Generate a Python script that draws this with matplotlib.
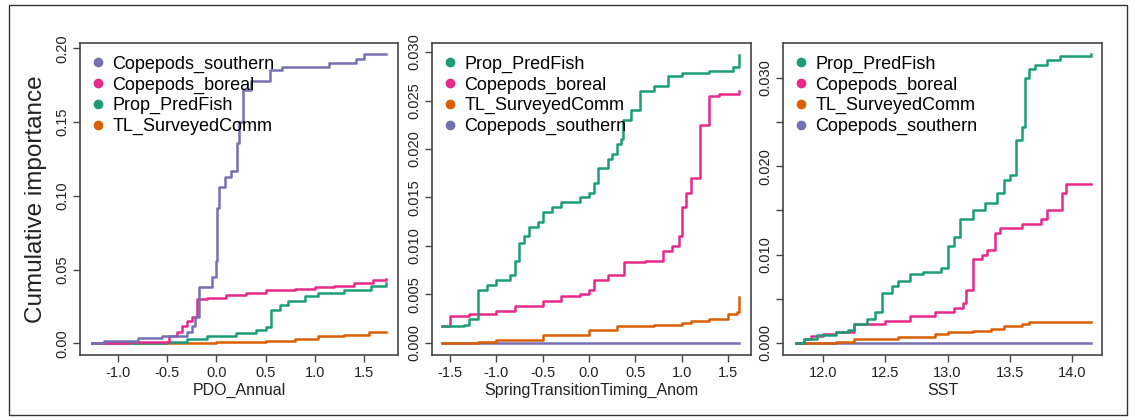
import matplotlib
matplotlib.use("Agg")
import matplotlib.pyplot as plt
from matplotlib.lines import Line2D
from matplotlib.patches import Rectangle

plt.rcParams["font.family"] = ["Liberation Sans", "DejaVu Sans"]

# ---------------------------------------------------------------------------
# Data (step breakpoints)
# ---------------------------------------------------------------------------
COLORS = {
    "Prop_PredFish": "#1B9E77",
    "TL_SurveyedComm": "#D95F02",
    "Copepods_southern": "#7570B3",
    "Copepods_boreal": "#E7298A",
}

# Panel 1: PDO_Annual
pdo_south_x = [-1.27, -1.15, -0.8, -0.55, -0.3, -0.25, -0.22, -0.18, -0.05, 0.0, 0.01, 0.03, 0.09,
               0.15, 0.21, 0.23, 0.27, 0.35, 0.55, 0.67, 1.15, 1.42, 1.5, 1.73]
pdo_south_y = [0.0, 0.002, 0.004, 0.005, 0.008, 0.012, 0.018, 0.038, 0.045, 0.056, 0.092, 0.106, 0.113,
               0.117, 0.136, 0.150, 0.172, 0.178, 0.185, 0.187, 0.190, 0.193, 0.196, 0.196]
pdo_boreal_x = [-1.27, -0.9, -0.48, -0.4, -0.35, -0.3, -0.25, -0.2, -0.1, 0.1, 0.3, 0.5, 0.8, 1.0,
                1.2, 1.4, 1.6, 1.73]
pdo_boreal_y = [0.0, 0.001, 0.005, 0.008, 0.012, 0.015, 0.018, 0.030, 0.031, 0.033, 0.034, 0.036,
                0.037, 0.038, 0.039, 0.041, 0.043, 0.044]
pdo_fish_x = [-1.27, -0.5, -0.3, -0.1, 0.2, 0.4, 0.5, 0.56, 0.65, 0.73, 0.9, 1.03, 1.3, 1.57, 1.73]
pdo_fish_y = [0.0, 0.001, 0.003, 0.005, 0.007, 0.009, 0.011, 0.023, 0.026, 0.029, 0.032, 0.034, 0.036,
              0.039, 0.041]
pdo_tl_x = [-1.27, -0.5, 0.0, 0.5, 0.8, 1.03, 1.3, 1.55, 1.73]
pdo_tl_y = [0.0, 0.0005, 0.001, 0.002, 0.003, 0.0052, 0.0058, 0.0075, 0.0078]

# Panel 2: SpringTransitionTiming_Anom
spr_fish_x = [-1.59, -1.35, -1.3, -1.2, -1.1, -1.0, -0.85, -0.8, -0.75, -0.7, -0.65, -0.55, -0.5,
              -0.4, -0.3, -0.1, 0.0, 0.05, 0.1, 0.2, 0.25, 0.3, 0.35, 0.37, 0.45, 0.55, 0.7, 0.85,
              1.0, 1.3, 1.55, 1.62]
spr_fish_y = [0.0017, 0.0019, 0.0025, 0.0055, 0.006, 0.0065, 0.007, 0.0085, 0.0103, 0.011, 0.012,
              0.0125, 0.0135, 0.014, 0.0145, 0.015, 0.0155, 0.0165, 0.018, 0.019, 0.0195, 0.0205,
              0.021, 0.023, 0.024, 0.026, 0.0265, 0.0275, 0.0278, 0.028, 0.0285, 0.0297]
spr_boreal_x = [-1.59, -1.5, -1.3, -1.0, -0.8, -0.5, -0.3, -0.1, 0.0, 0.05, 0.2, 0.38, 0.6, 0.8,
                0.9, 0.97, 1.0, 1.05, 1.1, 1.2, 1.3, 1.4, 1.62]
spr_boreal_y = [0.0018, 0.0028, 0.003, 0.0033, 0.0038, 0.0043, 0.0048, 0.005, 0.0055, 0.0065,
                0.007, 0.0083, 0.0085, 0.0095, 0.010, 0.011, 0.014, 0.0155, 0.017, 0.0225,
                0.0255, 0.0257, 0.026]
spr_tl_x = [-1.59, -1.2, -1.0, -0.5, 0.0, 0.3, 0.7, 1.0, 1.1, 1.3, 1.5, 1.6, 1.62]
spr_tl_y = [0.0, 0.0001, 0.0003, 0.0008, 0.0013, 0.0017, 0.0019, 0.0021, 0.0023, 0.0025, 0.003,
            0.0032, 0.0047]
spr_south_x = [-1.59, 1.62]
spr_south_y = [0.0, 0.0]

# Panel 3: SST
sst_fish_x = [11.78, 11.85, 11.95, 12.1, 12.2, 12.25, 12.35, 12.42, 12.47, 12.55, 12.6, 12.7, 12.8,
              12.95, 13.0, 13.05, 13.1, 13.2, 13.3, 13.4, 13.45, 13.5, 13.55, 13.6, 13.62, 13.65,
              13.7, 13.8, 13.9, 14.15]
sst_fish_y = [0.0, 0.0004, 0.0009, 0.0012, 0.0015, 0.0022, 0.0027, 0.0035, 0.0057, 0.0065, 0.007,
              0.0078, 0.008, 0.0085, 0.011, 0.012, 0.014, 0.015, 0.0158, 0.017, 0.0185, 0.019,
              0.023, 0.0245, 0.030, 0.031, 0.0315, 0.032, 0.0325, 0.0327]
sst_boreal_x = [11.78, 11.85, 11.9, 12.0, 12.1, 12.25, 12.5, 12.7, 12.9, 13.05, 13.12, 13.15, 13.2,
                13.28, 13.32, 13.38, 13.42, 13.6, 13.75, 13.8, 13.92, 13.95, 14.15]
sst_boreal_y = [0.0, 0.0004, 0.0008, 0.001, 0.0012, 0.0021, 0.0025, 0.003, 0.0035, 0.004, 0.0045,
                0.006, 0.0095, 0.010, 0.0105, 0.0125, 0.013, 0.0135, 0.014, 0.015, 0.017, 0.018,
                0.018]
sst_tl_x = [11.78, 12.1, 12.25, 12.6, 12.9, 13.0, 13.2, 13.35, 13.45, 13.6, 13.65, 14.15]
sst_tl_y = [0.0, 0.0001, 0.0005, 0.0007, 0.001, 0.0012, 0.0014, 0.0016, 0.0019, 0.0022, 0.0024,
            0.0024]
sst_south_x = [11.78, 14.15]
sst_south_y = [0.0, 0.0]

PANELS = [
    {
        "rect": (80, 43, 318, 312),
        "xlabel": "PDO_Annual",
        "xlim": (-1.39, 1.85), "ylim": (-0.0078, 0.2036),
        "xticks": [-1.0, -0.5, 0.0, 0.5, 1.0, 1.5],
        "yticks": [0.0, 0.05, 0.10, 0.15, 0.20], "ylabels": ["0.00", "0.05", "0.10", "0.15", "0.20"],
        "series": [
            ("Copepods_southern", pdo_south_x, pdo_south_y),
            ("Copepods_boreal", pdo_boreal_x, pdo_boreal_y),
            ("Prop_PredFish", pdo_fish_x, pdo_fish_y),
            ("TL_SurveyedComm", pdo_tl_x, pdo_tl_y),
        ],
    },
    {
        "rect": (432, 43, 319, 312),
        "xlabel": "SpringTransitionTiming_Anom",
        "xlim": (-1.694, 1.748), "ylim": (-0.00124, 0.03093),
        "xticks": [-1.5, -1.0, -0.5, 0.0, 0.5, 1.0, 1.5],
        "yticks": [0.0, 0.005, 0.010, 0.015, 0.020, 0.025, 0.030],
        "ylabels": ["0.000", "0.005", "0.010", "0.015", "0.020", "0.025", "0.030"],
        "series": [
            ("Prop_PredFish", spr_fish_x, spr_fish_y),
            ("Copepods_boreal", spr_boreal_x, spr_boreal_y),
            ("TL_SurveyedComm", spr_tl_x, spr_tl_y),
            ("Copepods_southern", spr_south_x, spr_south_y),
        ],
    },
    {
        "rect": (783, 43, 319, 312),
        "xlabel": "SST",
        "xlim": (11.678, 14.24), "ylim": (-0.00136, 0.03396),
        "xticks": [12.0, 12.5, 13.0, 13.5, 14.0],
        "yticks": [0.0, 0.005, 0.010, 0.015, 0.020, 0.025, 0.030],
        "ylabels": ["0.000", "", "0.010", "", "0.020", "", "0.030"],
        "series": [
            ("Prop_PredFish", sst_fish_x, sst_fish_y),
            ("Copepods_boreal", sst_boreal_x, sst_boreal_y),
            ("TL_SurveyedComm", sst_tl_x, sst_tl_y),
            ("Copepods_southern", sst_south_x, sst_south_y),
        ],
    },
]

W, H = 1135, 420
fig = plt.figure(figsize=(W / 100, H / 100), dpi=100, facecolor="white")

# outer frame
fig.patches.append(Rectangle((9 / W, 5 / H), 1118 / W, 410 / H, transform=fig.transFigure,
                             fill=False, edgecolor="#333333", linewidth=1.0))

FRAME = "#444444"
for i, p in enumerate(PANELS):
    left, top, w, h = p["rect"]
    ax = fig.add_axes([left / W, (H - top - h) / H, w / W, h / H])
    # draw in reverse so the first legend entry sits on top
    for name, xs, ys in p["series"][::-1]:
        ax.step(xs, ys, where="post", color=COLORS[name], linewidth=1.8)
    ax.set_xlim(*p["xlim"])
    ax.set_ylim(*p["ylim"])
    ax.set_xticks(p["xticks"])
    ax.set_xticklabels([f"{t:.1f}" for t in p["xticks"]])
    ax.set_yticks(p["yticks"])
    ax.set_yticklabels(p["ylabels"], rotation=90, va="center")
    ax.tick_params(direction="out", length=5, width=1, color=FRAME, labelsize=10.5,
                   labelcolor="#222222", pad=3)
    for sp in ax.spines.values():
        sp.set_color(FRAME)
        sp.set_linewidth(1.2)
    ax.set_xlabel(p["xlabel"], fontsize=11.5, color="#222222", labelpad=2)
    if i == 0:
        ax.set_ylabel("Cumulative importance", fontsize=17.5, color="#222222", labelpad=6)

    handles = [Line2D([], [], linestyle="none", marker="o", markersize=6,
                      color=COLORS[name]) for name, _, _ in p["series"]]
    labels = [name for name, _, _ in p["series"]]
    ax.legend(handles, labels, loc="upper left", frameon=False, fontsize=13,
              handlelength=0.6, handletextpad=0.5, labelspacing=0.2,
              borderaxespad=0.4, borderpad=0.3)

fig.savefig("out.png", dpi=100, facecolor="white")
